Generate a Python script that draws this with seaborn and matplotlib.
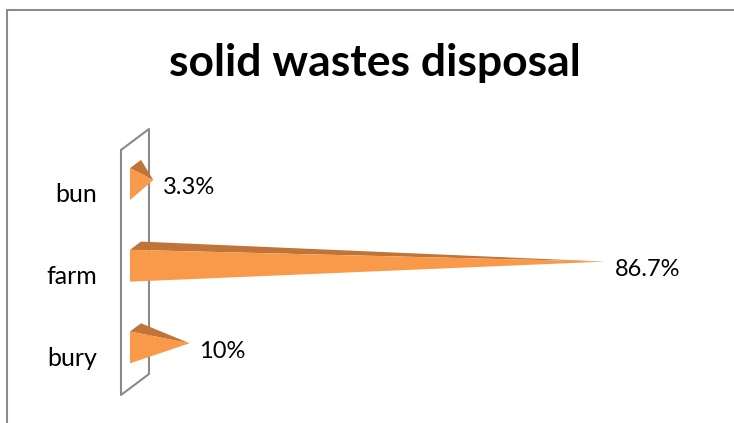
import matplotlib
matplotlib.use("Agg")
import matplotlib.pyplot as plt
import matplotlib.transforms as mtransforms
import seaborn as sns
import pandas as pd
from matplotlib.patches import Polygon
from matplotlib.lines import Line2D

# Data
methods = ["bun", "farm", "bury"]
shares = [3.3, 86.7, 10.0]
value_labels = ["3.3%", "86.7%", "10%"]
chart_title = "solid wastes disposal"

# Styling
FACE = "#F9994A"
TOP = "#C07438"
WALL = "#8A8A8A"
FRAME = "#8C8C8C"

sns.set_style("white")
plt.rcParams["font.family"] = ["Lato", "DejaVu Sans"]

W, H, DPI = 734, 423, 100
fig = plt.figure(figsize=(W / DPI, H / DPI), dpi=DPI)
ax = fig.add_axes([121 / W, 1 - 395 / H, 541.5 / W, 245 / H])

df = pd.DataFrame({"method": methods, "share": shares})
sns.barplot(data=df, x="share", y="method", orient="h", width=0.39,
            color=FACE, ax=ax)
ax.set_xlim(0, 100)
ax.set_ylim(2.5, -0.5)

# pixel <-> data conversion for the pseudo-3D depth offsets
o = ax.transData.transform((0, 0))
px_x = ax.transData.transform((1, 0))[0] - o[0]
px_y = ax.transData.transform((0, 1))[1] - o[1]


def shift(x, y, dx, dy):
    return (x + dx / px_x, y + dy / px_y)


FRONT = (9, 6.75)
DEPTH = (11, 8.25)
WALL_DEPTH = (28, 21)

# back wall of the category axis
p1 = (0, -0.5)
p2 = (0, 2.5)
p3 = shift(0, 2.5, *WALL_DEPTH)
p4 = shift(0, -0.5, *WALL_DEPTH)
ax.add_line(Line2D([p1[0], p2[0], p3[0], p4[0], p1[0]],
                   [p1[1], p2[1], p3[1], p4[1], p1[1]],
                   color=WALL, lw=1.5, clip_on=False, zorder=2))

# turn each bar into a pyramid
for bar, lbl in zip(list(ax.patches), value_labels):
    v = bar.get_width()
    y0 = bar.get_y()
    h = bar.get_height()
    yc = y0 + h / 2
    bar.remove()
    ft = shift(0, y0, *FRONT)
    fb = shift(0, y0 + h, *FRONT)
    bt = shift(0, y0, FRONT[0] + DEPTH[0], FRONT[1] + DEPTH[1])
    tip = shift(v, yc, FRONT[0] + DEPTH[0] / 2, FRONT[1] + DEPTH[1] / 2)
    ax.add_patch(Polygon([ft, bt, tip], closed=True, fc=TOP, ec="none",
                         clip_on=False, zorder=3))
    ax.add_patch(Polygon([ft, fb, tip], closed=True, fc=FACE, ec="none",
                         clip_on=False, zorder=4))
    ax.annotate(lbl, xy=(v, yc), xytext=(24, 3), textcoords="offset pixels",
                ha="left", va="center", fontsize=17, color="#000000")

ax.set_xticks([])
ax.set_xlabel("")
ax.set_ylabel("")
ax.tick_params(axis="y", length=0, pad=17, labelsize=18, labelcolor="#000000")
# nudge category labels slightly downward
down = mtransforms.ScaledTranslation(0, -2 / DPI, fig.dpi_scale_trans)
for t in ax.get_yticklabels():
    t.set_transform(t.get_transform() + down)
for s in ax.spines.values():
    s.set_visible(False)
ax.patch.set_alpha(0)

fig.text(374.5 / W, 1 - 76 / H, chart_title, ha="center", va="baseline",
         fontsize=32, fontweight="bold", color="#000000")

# chart area border (top and left edges)
fig.add_artist(Line2D([6.5 / W, 1], [1 - 10 / H, 1 - 10 / H],
                      transform=fig.transFigure, color=FRAME, lw=1.5))
fig.add_artist(Line2D([6.5 / W, 6.5 / W], [0, 1 - 10 / H],
                      transform=fig.transFigure, color=FRAME, lw=1.5))

fig.savefig("out.png", dpi=DPI)
